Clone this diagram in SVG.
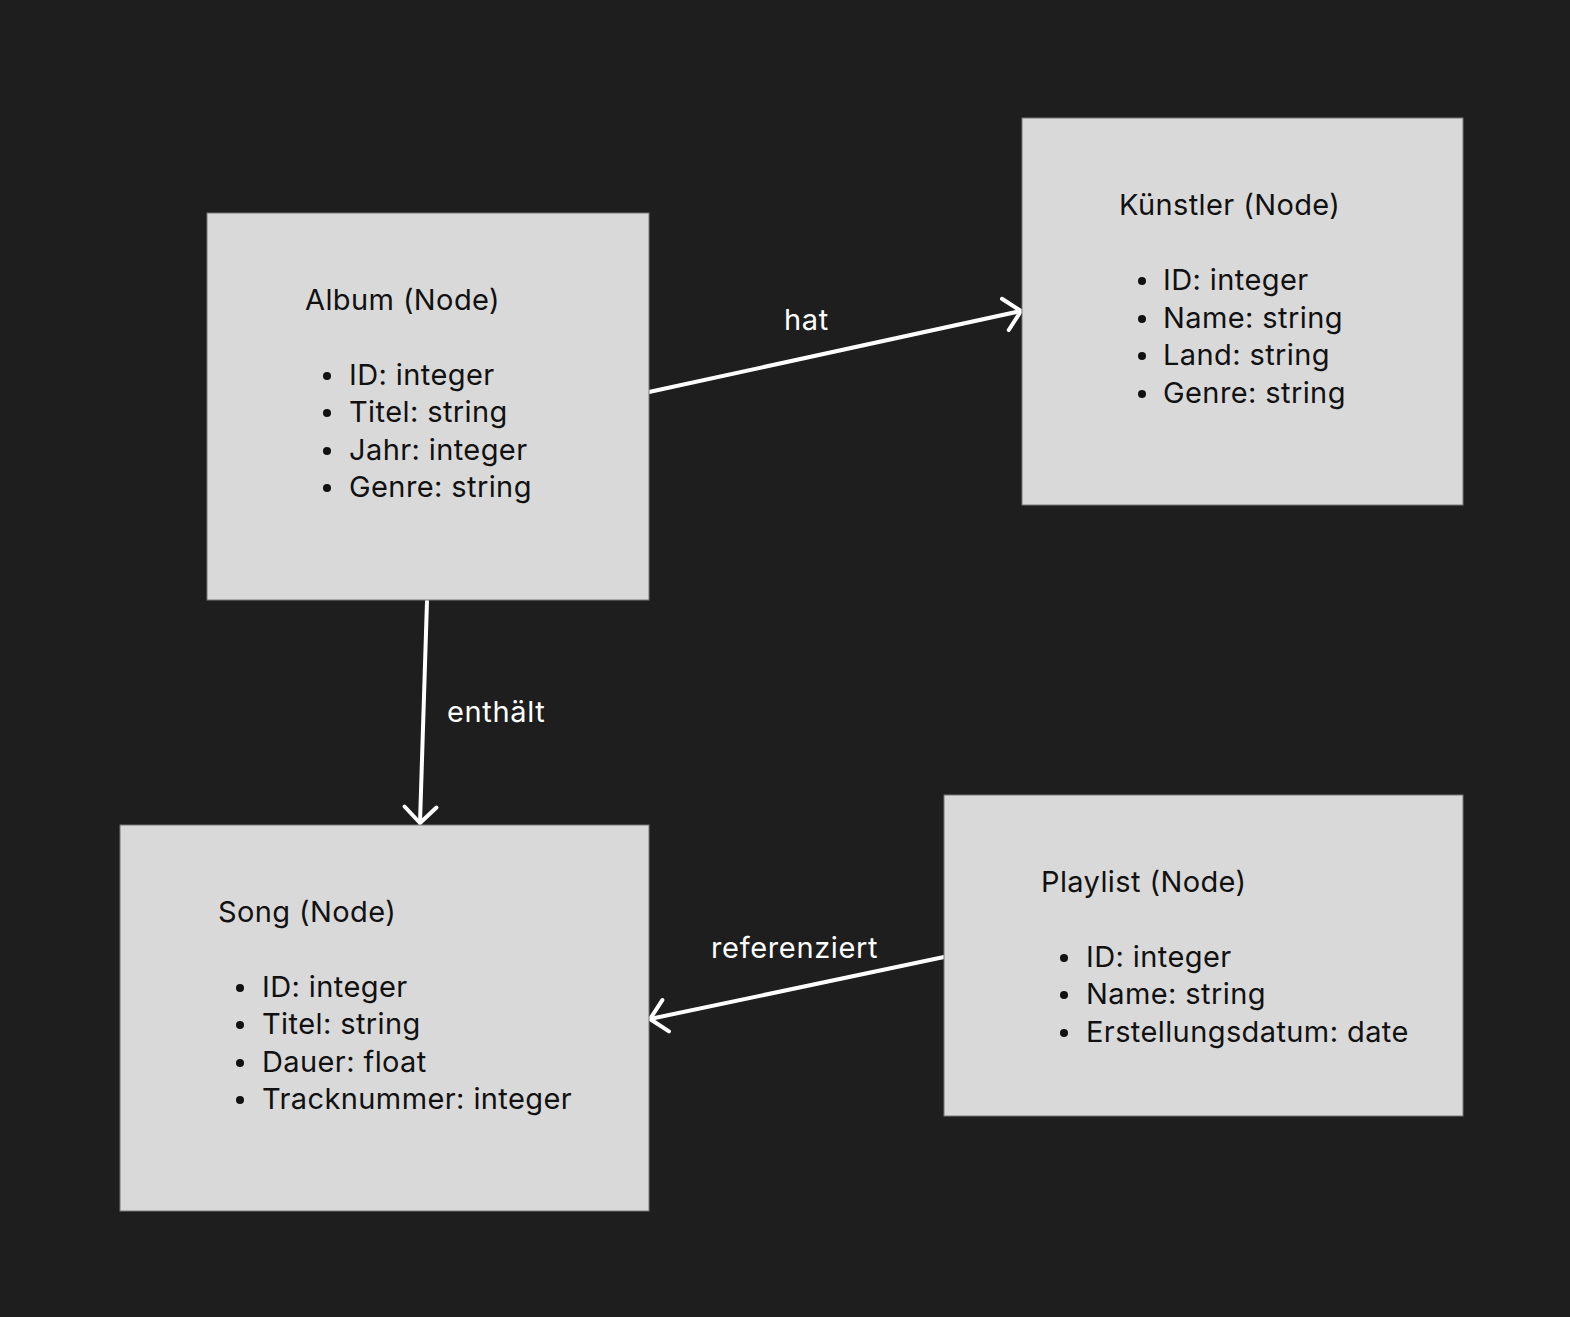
<svg xmlns="http://www.w3.org/2000/svg" width="1570" height="1317" viewBox="0 0 1570 1317">
<style>
.box{fill:#d9d9d9;stroke:#777;stroke-width:1}
.t{font-family:Inter,"Noto Sans","Liberation Sans",sans-serif;font-size:29px;letter-spacing:0.4px;fill:#111}
.lbl{font-family:Inter,"Noto Sans","Liberation Sans",sans-serif;font-size:29px;letter-spacing:0.65px;fill:#fff}
.b{fill:#111}
.edge{stroke:#fff;stroke-width:4;stroke-linecap:round;fill:none}
</style>
<defs>
<marker id="arr" markerUnits="userSpaceOnUse" markerWidth="40" markerHeight="40" viewBox="-20 -20 40 40" refX="0" refY="0" orient="auto" overflow="visible">
<path d="M -16 -16 L 0 0 L -16 16" fill="none" stroke="#fff" stroke-width="4" stroke-linecap="round" stroke-linejoin="round"/>
</marker>
</defs>
<rect width="1570" height="1317" fill="#1e1e1e"/>
<g id="connectors">
<g id="e-hat"><line class="edge" x1="649" y1="392" x2="1021" y2="311" marker-end="url(#arr)"/><text class="lbl" x="784" y="330">hat</text></g>
<g id="e-enthaelt"><line class="edge" x1="427" y1="601" x2="420" y2="823" marker-end="url(#arr)"/><text class="lbl" x="447" y="722">enthält</text></g>
<g id="e-ref"><line class="edge" x1="944" y1="957" x2="650" y2="1019" marker-end="url(#arr)"/><text class="lbl" x="711" y="958">referenziert</text></g>
</g>
<g id="album">
<rect class="box" x="207" y="213" width="442" height="387"/>
<text class="t" x="305" y="310">Album (Node)</text>
<circle class="b" cx="327" cy="376" r="4"/><text class="t" x="349" y="385">ID: integer</text>
<circle class="b" cx="327" cy="413" r="4"/><text class="t" x="349" y="422">Titel: string</text>
<circle class="b" cx="327" cy="451" r="4"/><text class="t" x="349" y="460">Jahr: integer</text>
<circle class="b" cx="327" cy="488" r="4"/><text class="t" x="349" y="497">Genre: string</text>
</g>
<g id="kuenstler">
<rect class="box" x="1022" y="118" width="441" height="387"/>
<text class="t" x="1119" y="215">Künstler (Node)</text>
<circle class="b" cx="1142" cy="281" r="4"/><text class="t" x="1163" y="290">ID: integer</text>
<circle class="b" cx="1142" cy="319" r="4"/><text class="t" x="1163" y="328">Name: string</text>
<circle class="b" cx="1142" cy="356" r="4"/><text class="t" x="1163" y="365">Land: string</text>
<circle class="b" cx="1142" cy="394" r="4"/><text class="t" x="1163" y="403">Genre: string</text>
</g>
<g id="song">
<rect class="box" x="120" y="825" width="529" height="386"/>
<text class="t" x="218" y="922">Song (Node)</text>
<circle class="b" cx="240" cy="988" r="4"/><text class="t" x="262" y="997">ID: integer</text>
<circle class="b" cx="240" cy="1025" r="4"/><text class="t" x="262" y="1034">Titel: string</text>
<circle class="b" cx="240" cy="1063" r="4"/><text class="t" x="262" y="1072">Dauer: float</text>
<circle class="b" cx="240" cy="1100" r="4"/><text class="t" x="262" y="1109">Tracknummer: integer</text>
</g>
<g id="playlist">
<rect class="box" x="944" y="795" width="519" height="321"/>
<text class="t" x="1041" y="892">Playlist (Node)</text>
<circle class="b" cx="1064" cy="958" r="4"/><text class="t" x="1086" y="967">ID: integer</text>
<circle class="b" cx="1064" cy="995" r="4"/><text class="t" x="1086" y="1004">Name: string</text>
<circle class="b" cx="1064" cy="1033" r="4"/><text class="t" x="1086" y="1042">Erstellungsdatum: date</text>
</g>
</svg>
